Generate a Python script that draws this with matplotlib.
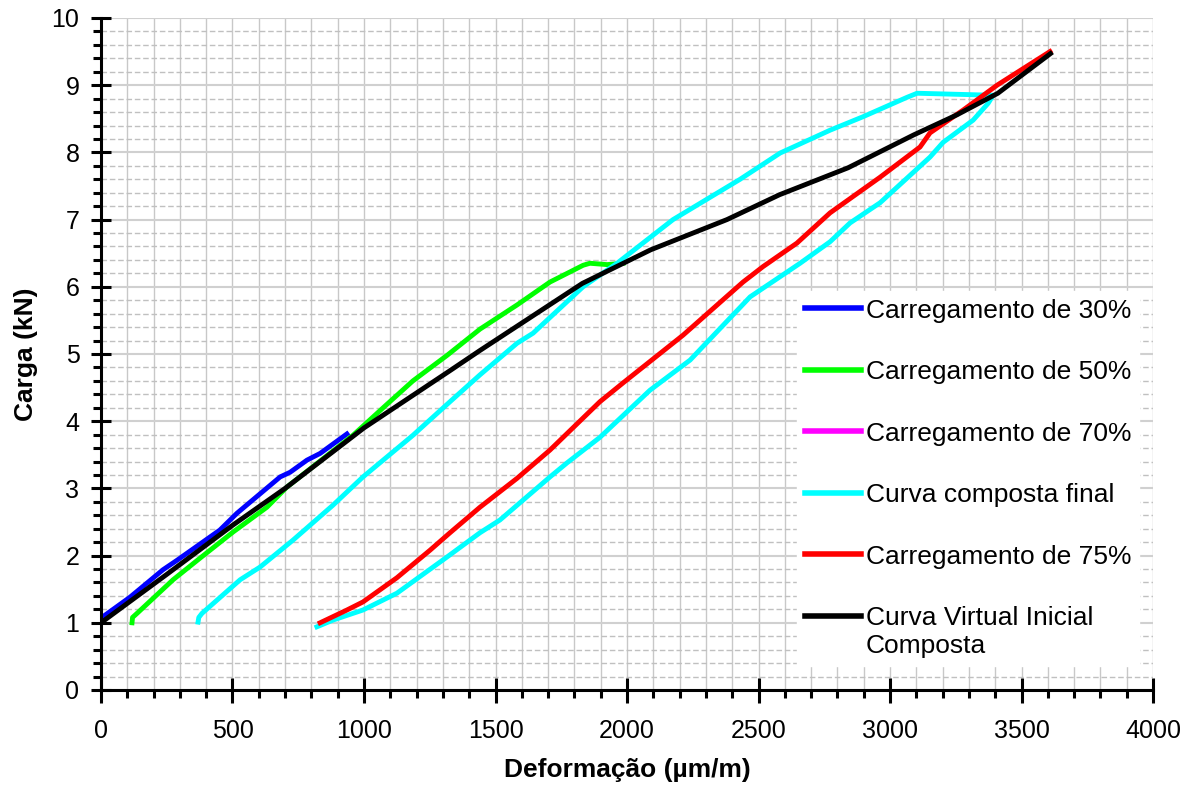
import matplotlib
matplotlib.use("Agg")
from matplotlib import pyplot as plt
from matplotlib.ticker import MultipleLocator
from matplotlib.legend_handler import HandlerLine2D

plt.rcParams['font.family'] = ['Liberation Sans', 'DejaVu Sans']

# Carregamento de 30%
blue_x = [0, 110, 236, 289, 452, 517, 681, 719, 783, 833, 935]
blue_y = [1.07, 1.38, 1.79, 1.93, 2.38, 2.63, 3.17, 3.24, 3.42, 3.52, 3.81]

# Carregamento de 50%
green_x = [118, 120, 137, 274, 376, 502, 631, 707, 958, 1087, 1186, 1316,
           1441, 1582, 1707, 1833, 1859, 1924, 1985]
green_y = [1.0, 1.08, 1.14, 1.64, 1.96, 2.35, 2.72, 3.02, 3.79, 4.25, 4.6, 4.98,
           5.37, 5.73, 6.07, 6.32, 6.35, 6.33, 6.35]

# Carregamento de 70% (hidden under the other curves)
magenta_x = []
magenta_y = []

# Curva composta final
cyan_x = [369, 372, 384, 529, 605, 730, 882, 996, 1186, 1327, 1441, 1582, 1643,
          1833, 1962, 2175, 2430, 2582, 2772, 2897, 3065, 3103, 3392, 3373, 3316,
          3202, 3152, 2962, 2848, 2772, 2658, 2582, 2468, 2240, 2087, 1897, 1772,
          1707, 1517, 1441, 1316, 1125, 996, 882, 821]
cyan_y = [1.01, 1.08, 1.14, 1.64, 1.83, 2.23, 2.75, 3.17, 3.79, 4.29, 4.69, 5.16, 5.31,
          6.0, 6.35, 7.0, 7.6, 7.99, 8.33, 8.53, 8.82, 8.88, 8.85, 8.73, 8.48,
          8.15, 7.93, 7.25, 6.95, 6.67, 6.35, 6.15, 5.85, 4.91, 4.46, 3.76, 3.38,
          3.17, 2.53, 2.34, 1.98, 1.44, 1.19, 1.04, 0.94]

# Carregamento de 75%
red_x = [833, 935, 996, 1125, 1251, 1327, 1441, 1582, 1707, 1897, 1985, 2213,
         2441, 2517, 2646, 2772, 2962, 3114, 3152, 3278, 3407, 3608]
red_y = [1.0, 1.19, 1.31, 1.67, 2.08, 2.34, 2.72, 3.15, 3.57, 4.29, 4.57, 5.28,
         6.07, 6.3, 6.65, 7.1, 7.63, 8.08, 8.29, 8.63, 9.0, 9.5]

# Curva Virtual Inicial Composta
black_x = [0, 250, 500, 700, 1000, 1330, 1440, 1830, 2090, 2380, 2580, 2840,
           3090, 3255, 3410, 3610]
black_y = [1.0, 1.72, 2.45, 3.0, 3.9, 4.76, 5.05, 6.05, 6.55, 7.0, 7.37, 7.77,
           8.26, 8.56, 8.88, 9.47]


# handler that puts the legend line next to the first line of a 2-line label
class FirstLineHandler(HandlerLine2D):
    def create_artists(self, legend, orig_handle, xdescent, ydescent, width,
                       height, fontsize, trans):
        artists = super().create_artists(legend, orig_handle, xdescent, ydescent,
                                         width, height, fontsize, trans)
        for a in artists:
            a.set_ydata([y + 0.6 * fontsize for y in a.get_ydata()])
        return artists


def main():
    fig = plt.figure(figsize=(11.95, 7.92), dpi=100)
    ax = fig.add_axes([0.0845, 0.1288, 0.8804, 0.8485])

    lw = 3.5
    ax.plot(blue_x, blue_y, color="#0000ff", lw=lw, label="Carregamento de 30%")
    ax.plot(green_x, green_y, color="#00ff00", lw=lw, label="Carregamento de 50%")
    ax.plot(magenta_x, magenta_y, color="#ff00ff", lw=lw, label="Carregamento de 70%")
    ax.plot(cyan_x, cyan_y, color="#00ffff", lw=lw, label="Curva composta final")
    ax.plot(red_x, red_y, color="#ff0000", lw=lw, label="Carregamento de 75%")
    black_line, = ax.plot(black_x, black_y, color="#000000", lw=lw,
                          label="Curva Virtual Inicial\nComposta")

    ax.set_xlim(0, 4000)
    ax.set_ylim(0, 10)
    ax.xaxis.set_major_locator(MultipleLocator(500))
    ax.xaxis.set_minor_locator(MultipleLocator(100))
    ax.yaxis.set_major_locator(MultipleLocator(1))
    ax.yaxis.set_minor_locator(MultipleLocator(0.2))

    # grid: solid verticals, solid major / dashed minor horizontals
    ax.xaxis.grid(True, which="both", color="#c8c8c8", lw=1.0, ls="-")
    ax.yaxis.grid(True, which="major", color="#d0d0d0", lw=1.5, ls="-")
    ax.yaxis.grid(True, which="minor", color="#c0c0c0", lw=1.0, ls=(0, (4, 2)))
    ax.set_axisbelow(True)

    for side in ("top", "right"):
        ax.spines[side].set_visible(False)
    for side in ("left", "bottom"):
        ax.spines[side].set_linewidth(2.2)

    ax.tick_params(axis="x", which="major", direction="inout", length=18,
                   width=2.2, pad=12, labelsize=18)
    ax.tick_params(axis="x", which="minor", direction="out", length=6, width=2.2)
    ax.tick_params(axis="y", which="major", direction="inout", length=15,
                   width=2.2, pad=8, labelsize=18)
    ax.tick_params(axis="y", which="minor", direction="out", length=6, width=2.2)

    ax.set_xlabel("Deformação (µm/m)", fontsize=19, fontweight="bold", labelpad=11)
    ax.set_ylabel("Carga (kN)", fontsize=19, fontweight="bold", labelpad=10)

    leg = ax.legend(loc="upper left", bbox_to_anchor=(0.662, 0.594),
                    borderaxespad=0, fontsize=19, frameon=True, fancybox=False,
                    framealpha=1, edgecolor="white", handlelength=2.1,
                    handletextpad=0.2, labelspacing=1.42, borderpad=0.3,
                    handler_map={black_line: FirstLineHandler()})
    for line in leg.get_lines():
        line.set_linewidth(4)

    fig.savefig("out.png", dpi=100)


if __name__ == "__main__":
    main()
